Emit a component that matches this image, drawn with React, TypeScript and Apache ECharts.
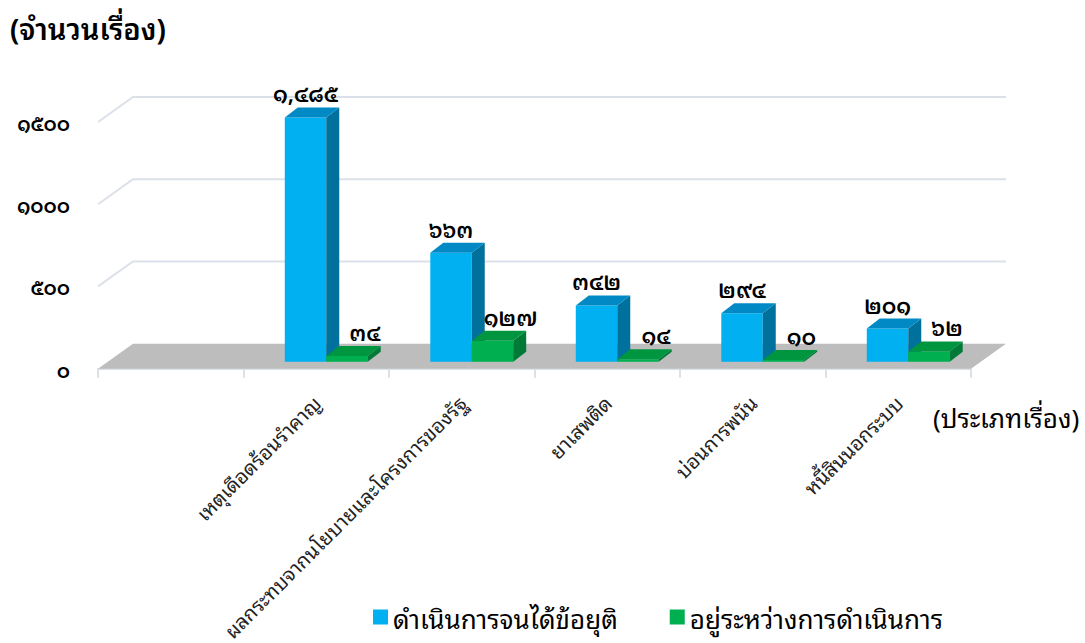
import React, { useEffect, useRef } from "react";
import * as echarts from "echarts";

const categories = [
  "",
  "เหตุเดือดร้อนรำคาญ",
  "ผลกระทบจากนโยบายและโครงการของรัฐ",
  "ยาเสพติด",
  "บ่อนการพนัน",
  "หนี้สินนอกระบบ",
];
const seriesNames = ["ดำเนินการจนได้ข้อยุติ", "อยู่ระหว่างการดำเนินการ"];
const completed: (number | null)[] = [null, 1485, 663, 342, 294, 201];
const inProgress: (number | null)[] = [null, 34, 127, 14, 10, 62];
const yTicks = [0, 500, 1000, 1500];
const yTitle = "(จำนวนเรื่อง)";
const xTitle = "(ประเภทเรื่อง)";

const FONT =
  "'Noto Sans Thai Looped', Loma, Garuda, Tahoma, 'Leelawadee UI', 'Noto Sans Thai', 'Noto Sans', sans-serif";
const THAI = "๐๑๒๓๔๕๖๗๘๙";
const toThai = (s: string) => s.replace(/[0-9]/g, (d) => THAI[+d]);
const fmtGroup = (v: number) => toThai(v.toLocaleString("en-US"));

// depth of the floor (front plane -> back wall), pixels
const FLOOR_DX = 35;
const FLOOR_DY = -25;
// bars start a bit behind the front plane and have a shallower depth
const BAR_OFF_X = 10;
const BAR_OFF_Y = -7;
const BAR_DX = 13;
const BAR_DY = -10;

const palettes = [
  { front: "#00B0F0", side: "#00709C", top: "#0089C4" },
  { front: "#00B050", side: "#007A36", top: "#00953F" },
];

function makeBarRender(sideIdx: number) {
  const pal = palettes[sideIdx];
  return (params: any, api: any) => {
    const idx = api.value(0);
    const v = api.value(1);
    if (v == null || isNaN(v)) return null;
    const base = api.coord([idx, 0]);
    const top = api.coord([idx, v]);
    const bw = api.size([1, 0])[0];
    const w = bw * 0.285;
    const x0 = base[0] + (sideIdx === 0 ? -w : 0) + BAR_OFF_X;
    const x1 = x0 + w;
    const yb = base[1] + BAR_OFF_Y;
    const yt = top[1] + BAR_OFF_Y;
    const children: any[] = [
      {
        type: "polygon",
        shape: { points: [[x0, yb], [x1, yb], [x1, yt], [x0, yt]] },
        style: { fill: pal.front },
      },
      {
        type: "polygon",
        shape: {
          points: [[x1, yb], [x1 + BAR_DX, yb + BAR_DY], [x1 + BAR_DX, yt + BAR_DY], [x1, yt]],
        },
        style: { fill: pal.side },
      },
      {
        type: "polygon",
        shape: {
          points: [[x0, yt], [x1, yt], [x1 + BAR_DX, yt + BAR_DY], [x0 + BAR_DX, yt + BAR_DY]],
        },
        style: { fill: pal.top },
      },
      {
        type: "text",
        style: {
          text: fmtGroup(v),
          x: (x0 + x1) / 2 + (sideIdx === 1 ? 18 : 0),
          y: yt + BAR_DY - 15,
          align: "center",
          verticalAlign: "middle",
          fill: "#000",
          font: `600 22px ${FONT}`,
        },
      },
    ];
    return { type: "group", children };
  };
}

const frameRender = (params: any, api: any) => {
  const bw = api.size([1, 0])[0];
  const L = api.coord([0, 0])[0] - bw / 2;
  const R = api.coord([categories.length - 1, 0])[0] + bw / 2;
  const y0 = api.coord([0, 0])[1];
  const children: any[] = [
    {
      type: "polygon",
      shape: {
        points: [[L, y0], [R, y0], [R + FLOOR_DX, y0 + FLOOR_DY], [L + FLOOR_DX, y0 + FLOOR_DY]],
      },
      style: { fill: "#BDBDBD" },
    },
  ];
  yTicks
    .filter((t) => t > 0)
    .forEach((t) => {
      const yv = api.coord([0, t])[1];
      children.push({
        type: "polyline",
        shape: {
          points: [[L, yv], [L + FLOOR_DX, yv + FLOOR_DY], [R + FLOOR_DX, yv + FLOOR_DY]],
        },
        style: { stroke: "#DCE1E9", lineWidth: 2, fill: "none" },
      });
    });
  return { type: "group", children };
};

export default function App() {
  const ref = useRef<HTMLDivElement>(null);
  useEffect(() => {
    if (!ref.current) return;
    const chart = echarts.init(ref.current, null, { renderer: "svg" });
    chart.setOption({
      animation: false,
      backgroundColor: "#ffffff",
      textStyle: { fontFamily: FONT },
      grid: { left: 98, right: 114, top: 122, bottom: 273, containLabel: false },
      xAxis: {
        type: "category",
        data: categories,
        boundaryGap: true,
        axisLine: { show: true, lineStyle: { color: "#DCE1E9", width: 2 } },
        axisTick: { show: true, length: 9, lineStyle: { color: "#DCE1E9", width: 2 } },
        axisLabel: {
          interval: 0,
          rotate: 45,
          margin: 30,
          fontSize: 20,
          color: "#222",
          fontFamily: FONT,
        },
        splitLine: { show: false },
      },
      yAxis: {
        type: "value",
        min: 0,
        max: 1500,
        interval: 500,
        axisLine: { show: false },
        axisTick: { show: false },
        splitLine: { show: false },
        axisLabel: {
          formatter: (v: number) => toThai(String(v)),
          fontSize: 20,
          fontWeight: 600,
          color: "#000",
          margin: 28,
          padding: [12, 0, 0, 0],
          fontFamily: FONT,
        },
      },
      legend: {
        data: seriesNames.map((n) => ({ name: n, icon: "rect" })),
        left: 368,
        bottom: 8,
        itemWidth: 15,
        itemHeight: 15,
        itemGap: 52,
        textStyle: { fontSize: 26, color: "#000", fontFamily: FONT },
      },
      graphic: [
        {
          type: "text",
          left: 10,
          top: 12,
          style: { text: yTitle, font: `600 29px ${FONT}`, fill: "#000" },
        },
        {
          type: "text",
          left: 933,
          top: 403,
          style: { text: xTitle, font: `26px ${FONT}`, fill: "#000" },
        },
      ],
      series: [
        {
          type: "custom",
          name: "__frame",
          data: [[0, 0]],
          encode: { x: 0, y: 1 },
          renderItem: frameRender,
          z: 1,
          silent: true,
        },
        {
          type: "custom",
          name: seriesNames[0],
          itemStyle: { color: palettes[0].front },
          data: completed.map((v, i) => [i, v == null ? NaN : v]),
          encode: { x: 0, y: 1 },
          renderItem: makeBarRender(0),
          z: 3,
        },
        {
          type: "custom",
          name: seriesNames[1],
          itemStyle: { color: palettes[1].front },
          data: inProgress.map((v, i) => [i, v == null ? NaN : v]),
          encode: { x: 0, y: 1 },
          renderItem: makeBarRender(1),
          z: 4,
        },
      ],
    });
    return () => chart.dispose();
  }, []);
  return (
    <div
      ref={ref}
      style={{ position: "fixed", left: 0, top: 0, width: 1085, height: 643 }}
    />
  );
}
